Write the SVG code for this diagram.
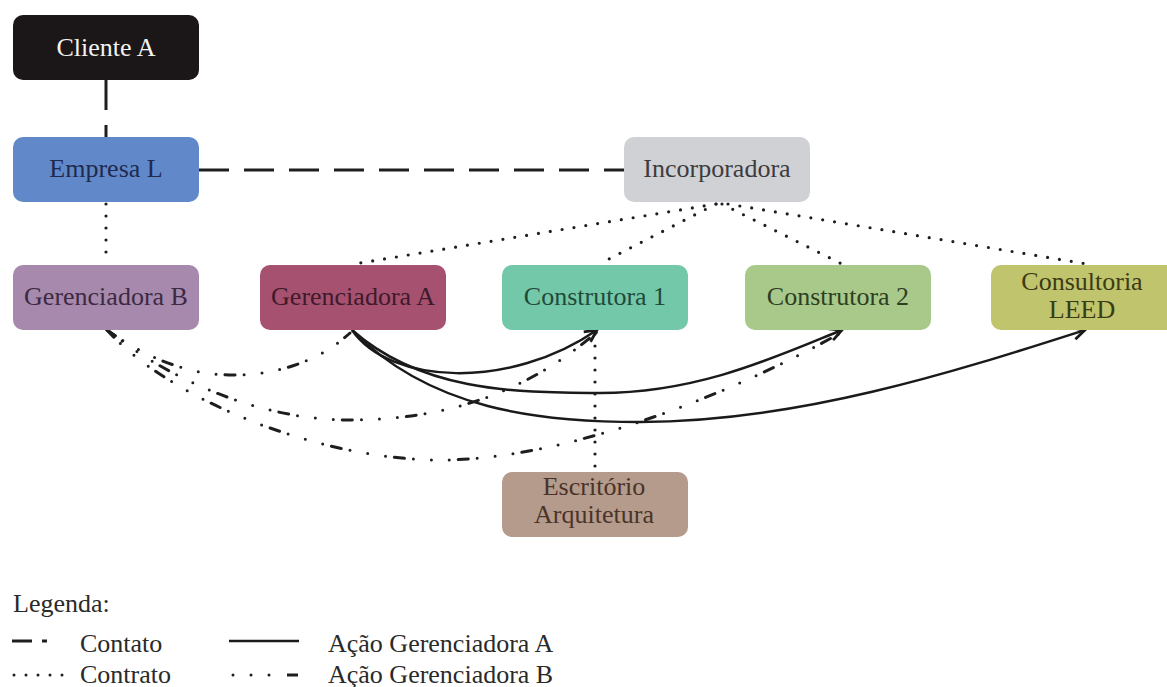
<svg xmlns="http://www.w3.org/2000/svg" width="1167" height="687" viewBox="0 0 1167 687">
<style>
  .lbl{font-family:"Liberation Serif","Times New Roman",serif;font-size:26px;text-anchor:middle}
  .leg{font-family:"Liberation Serif","Times New Roman",serif;font-size:26px;fill:#2a2a2a}
  .contact{fill:none;stroke:#1e1e1e;stroke-width:3;stroke-dasharray:30 15}
  .contract{fill:none;stroke:#1e1e1e;stroke-width:3.2;stroke-dasharray:0 12;stroke-linecap:round}
  .actA{fill:none;stroke:#1a1a1a;stroke-width:2.5}
  .actB{fill:none;stroke:#1e1e1e;stroke-width:3;stroke-dasharray:10 9 0 18 0 18 0 9;stroke-linecap:round}
</style>
<defs>
  <marker id="arr" viewBox="0 0 16 16" refX="14" refY="8" markerWidth="16" markerHeight="16" orient="auto" markerUnits="userSpaceOnUse">
    <path d="M2,2 L14,8 L2,14" fill="none" stroke="#1a1a1a" stroke-width="2.8" stroke-linejoin="miter"/>
  </marker>
</defs>
<rect width="1167" height="687" fill="#ffffff"/>

<g id="connectors">
  <!-- contato -->
  <line class="contact" x1="106" y1="80" x2="106" y2="137"/>
  <line class="contact" x1="199" y1="170" x2="624" y2="170"/>
  <!-- contrato -->
  <line class="contract" x1="106" y1="204" x2="106" y2="264"/>
  <line class="contract" x1="716" y1="204" x2="354" y2="264"/>
  <line class="contract" x1="716" y1="204" x2="601" y2="263"/>
  <line class="contract" x1="722" y1="204" x2="842" y2="264"/>
  <line class="contract" x1="728" y1="204" x2="1087" y2="264"/>
  <line class="contract" x1="595" y1="334" x2="595" y2="471"/>
  <!-- acao gerenciadora A -->
  <path class="actA" d="M352,330 C 390,385 510,390 597,330" marker-end="url(#arr)"/>
  <path class="actA" d="M352,330 C 420,390 510,393 600,393 C 700,393 780,355 842,330" marker-end="url(#arr)"/>
  <path class="actA" d="M352,330 C 430,410 540,422 640,422 C 800,422 960,370 1085,330" marker-end="url(#arr)"/>
  <!-- acao gerenciadora B -->
  <path class="actB" d="M107,330 C 150,360 190,375 233,375 C 280,375 320,360 350,333"/>
  <path class="actB" d="M107,330 C 170,380 260,420 350,420 C 450,420 530,390 597,332"/>
  <path class="actB" d="M107,330 C 170,400 320,460 440,460 C 570,460 740,390 842,332"/>
</g>

<g id="cliente-a">
  <rect x="13" y="15" width="186" height="65" rx="10" fill="#1b1718"/>
  <text class="lbl" x="106" y="56" fill="#f2f2f2">Cliente A</text>
</g>
<g id="empresa-l">
  <rect x="13" y="137" width="186" height="65" rx="10" fill="#6189c9"/>
  <text class="lbl" x="106" y="177" fill="#1f2a4d">Empresa L</text>
</g>
<g id="incorporadora">
  <rect x="624" y="137" width="186" height="65" rx="10" fill="#d0d1d4"/>
  <text class="lbl" x="717" y="177" fill="#3c3c3e">Incorporadora</text>
</g>
<g id="gerenciadora-b">
  <rect x="13" y="265" width="186" height="65" rx="10" fill="#a689ac"/>
  <text class="lbl" x="106" y="305" fill="#3d2a42">Gerenciadora B</text>
</g>
<g id="gerenciadora-a">
  <rect x="260" y="265" width="186" height="65" rx="10" fill="#a5516f"/>
  <text class="lbl" x="353" y="305" fill="#3e1a2b">Gerenciadora A</text>
</g>
<g id="construtora-1">
  <rect x="502" y="265" width="186" height="65" rx="10" fill="#74c8aa"/>
  <text class="lbl" x="595" y="305" fill="#1f4a3b">Construtora 1</text>
</g>
<g id="construtora-2">
  <rect x="745" y="265" width="186" height="65" rx="10" fill="#a9c98b"/>
  <text class="lbl" x="838" y="305" fill="#2f3e23">Construtora 2</text>
</g>
<g id="consultoria-leed">
  <rect x="991" y="265" width="186" height="65" rx="10" fill="#c0c46c"/>
  <text class="lbl" x="1082" y="290" fill="#3b3b15">Consultoria</text>
  <text class="lbl" x="1082" y="318" fill="#3b3b15">LEED</text>
</g>
<g id="escritorio-arquitetura">
  <rect x="502" y="472" width="186" height="65" rx="10" fill="#b49b8b"/>
  <text class="lbl" x="594" y="495" fill="#4a3329">Escritório</text>
  <text class="lbl" x="594" y="523" fill="#4a3329">Arquitetura</text>
</g>

<g id="legend">
  <text class="leg" x="13" y="612">Legenda:</text>
  <line x1="12" y1="641" x2="32" y2="641" stroke="#1e1e1e" stroke-width="3"/>
  <line x1="42" y1="641" x2="47" y2="641" stroke="#1e1e1e" stroke-width="3"/>
  <text class="leg" x="80" y="652">Contato</text>
  <line x1="229" y1="641" x2="299" y2="641" stroke="#1a1a1a" stroke-width="2.5"/>
  <text class="leg" x="328" y="652">Ação Gerenciadora A</text>
  <line x1="14" y1="675" x2="64" y2="675" stroke="#1e1e1e" stroke-width="3" stroke-dasharray="0 12" stroke-linecap="round"/>
  <text class="leg" x="80" y="683">Contrato</text>
  <line x1="233" y1="675" x2="271" y2="675" stroke="#1e1e1e" stroke-width="3" stroke-dasharray="0 18" stroke-linecap="round"/>
  <line x1="287" y1="675" x2="298" y2="675" stroke="#1e1e1e" stroke-width="3"/>
  <text class="leg" x="328" y="683">Ação Gerenciadora B</text>
</g>
</svg>
